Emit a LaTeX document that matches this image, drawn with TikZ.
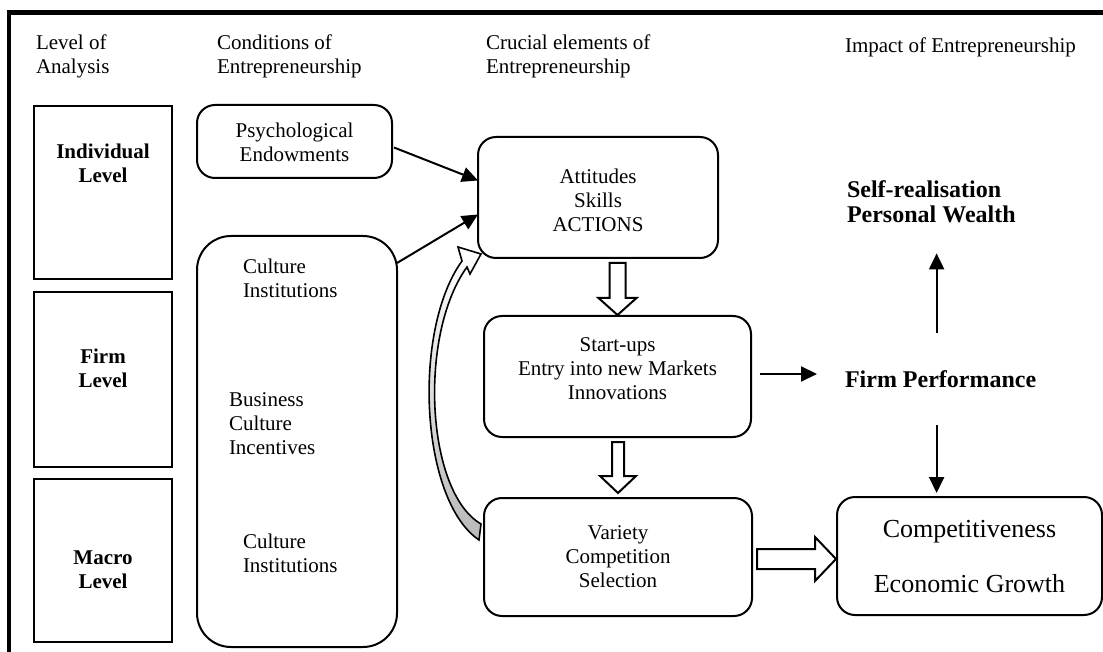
\documentclass[tikz,border=0pt]{standalone}
\usepackage{fontspec}
\setmainfont{Liberation Serif}
\usetikzlibrary{arrows.meta,calc}

\begin{document}
\begin{tikzpicture}[x=1pt,y=-1pt,
  every node/.style={inner sep=0pt, outer sep=0pt},
  txt/.style={font=\fontsize{21}{24}\selectfont, align=center, anchor=base},
  txtl/.style={font=\fontsize{21}{24}\selectfont, align=left, anchor=base west},
  boldtxt/.style={font=\fontsize{21}{24}\selectfont\bfseries, align=center, anchor=base},
  impact/.style={font=\fontsize{24}{25}\selectfont\bfseries, align=left, anchor=base west},
  levelbox/.style={draw, line width=2pt, minimum width=138pt},
  rbox/.style={draw, line width=2pt, rounded corners=18pt},
  arr/.style={line width=2pt, -{Triangle[length=16pt,width=15pt]}},
  block/.style={draw, line width=2pt, fill=white, line join=miter},
]
\useasboundingbox (0,0) rectangle (1103,652);

% outer frame (top and left edges only)
\draw[line width=4.5pt, line join=miter] (9,652) -- (9,12.5) -- (1103,12.5);

% column headings (base anchor = baseline of the last line)
\node[txtl] (hlevel) at (36,74) {Level of\\Analysis};
\node[txtl] (hcond) at (217,74) {Conditions of\\Entrepreneurship};
\node[txtl] (hcruc) at (486,74) {Crucial elements of\\Entrepreneurship};
\node[txtl] (himp) at (845,53) {Impact of Entrepreneurship};

% levels of analysis
\node[levelbox, minimum height=173pt] (indiv) at (103,192.5) {};
\node[levelbox, minimum height=175pt] (firm) at (103,379.5) {};
\node[levelbox, minimum height=163pt] (macro) at (103,560) {};
\node[boldtxt] (indivlbl) at (103,183) {Individual\\Level};
\node[boldtxt] (firmlbl) at (103,387) {Firm\\Level};
\node[boldtxt] (macrolbl) at (103,588) {Macro\\Level};

% conditions
\node[rbox, minimum width=195pt, minimum height=73pt] (psych) at (294.5,141.5) {};
\node[txt] (psychlbl) at (294.5,162) {Psychological\\Endowments};
\node[rbox, rounded corners=34pt, minimum width=200pt, minimum height=411pt] (cond) at (297,441.5) {};
\node[txtl] (cult1) at (243,298) {Culture\\Institutions};
\node[txtl] (busi) at (229,454) {Business\\Culture\\Incentives};
\node[txtl] (cult2) at (243,572) {Culture\\Institutions};

% crucial elements
\node[rbox, minimum width=240pt, minimum height=121pt] (att) at (598,197.5) {};
\node[txt] (attlbl) at (598,232) {Attitudes\\Skills\\ACTIONS};
\node[rbox, minimum width=267pt, minimum height=121pt] (startups) at (617.5,376.5) {};
\node[txt] (startlbl) at (617.5,399) {Start-ups\\Entry into new Markets\\Innovations};
\node[rbox, minimum width=268pt, minimum height=118pt] (variety) at (618,557) {};
\node[txt] (varlbl) at (618,587) {Variety\\Competition\\Selection};

% impact
\node[impact] (selfreal) at (847,223) {Self-realisation\\Personal Wealth};
\node[impact] (firmperf) at (845,387) {Firm Performance};
\node[rbox, minimum width=265pt, minimum height=118pt] (comp) at (969.5,556) {};
\node[font=\fontsize{26}{55}\selectfont, align=center, anchor=base] (complbl) at (969.5,592) {Competitiveness\\Economic Growth};

% plain arrows
\draw[arr] ($(psych.east)+(2,6)$) -- ($(att.west)+(0,-17)$);
\draw[arr] ($(cond.north east)+(0,27)$) -- ($(att.west)+(0,17)$);
\draw[arr] ($(startups.east)+(9,-2.5)$) -- ($(firmperf.west |- startups.east)+(-28,-2.5)$);
\draw[arr] ($(firmperf.north)+(-4,-37)$) -- ($(selfreal.south -| firmperf.north)+(-4,30)$);
\draw[arr] ($(firmperf.south)+(-4,38)$) -- ($(comp.north -| firmperf.south)+(-4,-4)$);

% hollow block arrows
\draw[block] ($(startups.north)+(0,-1)$) -- ++(-19,-17) -- ++(11,0) -- ++(0,-35)
  -- ++(16,0) -- ++(0,35) -- ++(11,0) -- cycle;
\draw[block] ($(variety.north)+(0,-5)$) -- ++(-18,-17) -- ++(12,0) -- ++(0,-34)
  -- ++(12,0) -- ++(0,34) -- ++(12,0) -- cycle;
\draw[block] ($(comp.west)+(-1,3)$) -- ++(-21,-22) -- ++(0,12) -- ++(-58,0)
  -- ++(0,20) -- ++(58,0) -- ++(0,12) -- cycle;

% curved feedback arrow from selection back to actions
\draw[line width=1.6pt, line join=miter, top color=white, middle color=white, bottom color=gray!55]
  ($(variety.west)+(-5,-17)$)
  .. controls ($(variety.west)+(-64,-57)$) and ($(att.south west)+(-66,72)$) .. ($(att.south west)+(-16,3)$)
  -- ($(att.south west)+(-20,-11)$)
  -- ($(att.south west)+(3,-4)$)
  -- ($(att.south west)+(-8,16)$)
  -- ($(att.south west)+(-11,9)$)
  .. controls ($(att.south west)+(-60,77)$) and ($(variety.west)+(-58,-65)$) .. ($(variety.west)+(-3,-33)$)
  -- cycle;
\end{tikzpicture}
\end{document}
